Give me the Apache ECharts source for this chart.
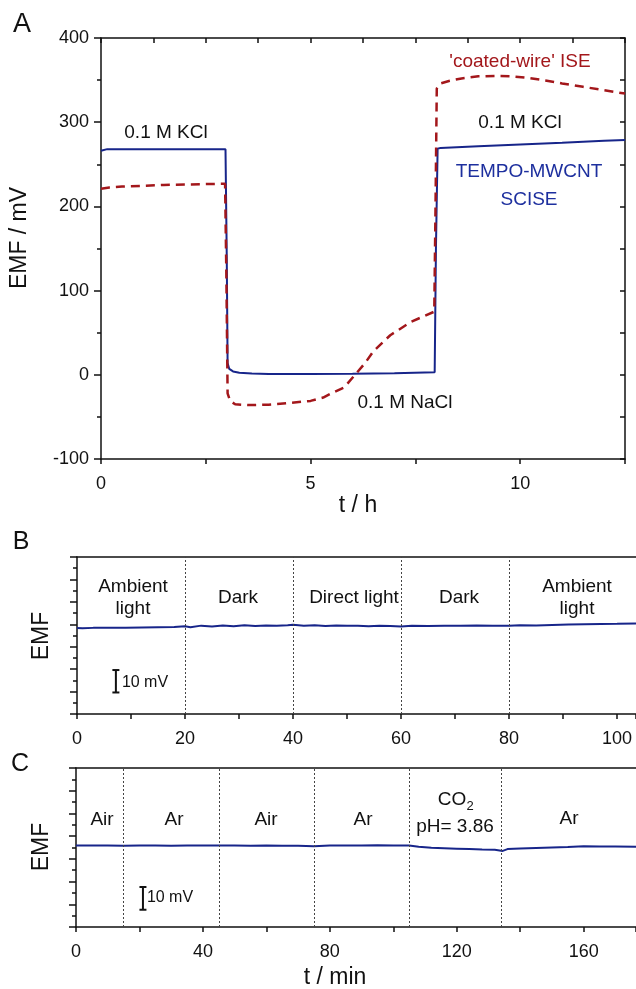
<!DOCTYPE html>
<html>
<head>
<meta charset="utf-8">
<script src="https://cdn.jsdelivr.net/npm/echarts@6/dist/echarts.min.js"></script>
<style>
  html, body { margin: 0; padding: 0; background: #fff; }
  #chart { width: 636px; height: 989px; }
</style>
</head>
<body>
<div id="chart"></div>
<script>
// Panel A: EMF / mV vs t / h (0.1 M KCl -> 0.1 M NaCl -> 0.1 M KCl)
var tTempo = [0, 0.15, 1, 2, 2.97, 3.0, 3.02, 3.06, 3.15, 3.3, 3.6, 4, 5, 6, 7, 7.96, 7.99, 8.03, 8.1, 9, 10, 11, 12, 12.5];
var emfTempo = [266, 268, 268, 268, 268, 140, 14, 7, 4, 2.5, 1.5, 1, 1, 1.3, 1.8, 3, 150, 268.5, 269.5, 271.5, 273.5, 275.5, 278, 279];

var tCoated = [0, 0.2, 0.5, 1, 1.5, 2, 2.5, 2.96, 2.99, 3.02, 3.08, 3.2, 3.5, 4, 4.5, 5, 5.3, 5.5, 5.8, 6.06, 6.3, 6.5, 6.9, 7.4, 7.95, 7.98, 8.01, 8.1, 8.3, 8.6, 9, 9.4, 9.8, 10.2, 10.6, 11, 11.5, 12, 12.5];
var emfCoated = [221, 222.5, 223.5, 224.5, 225.5, 226, 226.5, 227, 120, -22, -31, -35, -36, -35.5, -33.5, -31, -27, -22, -15, 0, 14, 28, 47, 63, 75, 200, 340, 346, 349, 352, 354.5, 355, 354.5, 352.5, 349.5, 346, 342, 338, 334];

// Panel B: light sensitivity, t / min; EMF in mV on a 70 mV window
var tLight = [0, 1, 3, 6, 9, 12, 15, 18, 20, 21, 23, 25, 27, 29, 31, 33, 35, 37, 39, 40, 42, 44, 46, 48, 50, 52, 54, 56, 58, 60, 62, 65, 68, 71, 74, 77, 80, 82, 85, 88, 91, 94, 97, 100, 103.5];
var emfLight = [38.3, 38.2, 38.4, 38.4, 38.5, 38.6, 38.7, 38.8, 39.1, 38.7, 39.4, 39.0, 39.5, 39.1, 39.6, 39.2, 39.5, 39.3, 39.6, 39.8, 39.4, 39.6, 39.2, 39.5, 39.3, 39.4, 39.1, 39.3, 39.2, 39.0, 39.3, 39.2, 39.4, 39.3, 39.5, 39.3, 39.3, 39.6, 39.5, 39.7, 39.9, 40.0, 40.1, 40.2, 40.4];
var lightSwitches = [20, 40, 60, 80];

// Panel C: gas / CO2 sensitivity, t / min
var tGas = [0, 5, 10, 15, 20, 25, 30, 35, 40, 45, 50, 55, 60, 65, 70, 75, 80, 85, 90, 95, 100, 105, 108, 112, 116, 120, 124, 128, 132, 134.5, 136, 140, 145, 150, 155, 160, 165, 170, 176.5];
var emfGas = [35.9, 35.9, 35.9, 35.8, 35.9, 35.9, 35.8, 35.9, 35.9, 35.9, 35.9, 35.8, 35.9, 35.8, 35.8, 35.6, 35.9, 35.9, 35.9, 36.0, 35.9, 35.9, 35.3, 34.9, 34.7, 34.5, 34.3, 34.1, 34.0, 33.5, 34.3, 34.6, 34.8, 35.0, 35.2, 35.5, 35.4, 35.4, 35.3];
var gasSwitches = [15, 45, 75, 105, 134];

// 10 mV scale bars (x position, from, to)
var barB = [7.2, 9.6, 19.6];
var barC = [21.1, 7.6, 17.6];

var NAVY = '#17258a';
var WINE = '#a3171b';
var FONT = "'Liberation Sans', Arial, sans-serif";

function pairs(xs, ys) {
  return xs.map(function (x, i) { return [x, ys[i]]; });
}

var axisLine = { show: true, onZero: false, lineStyle: { color: '#111', width: 1.5 } };
var tickStyle = { color: '#111', width: 1.5 };
var labelBase = { fontSize: 18, color: '#111', fontFamily: FONT };

function xMain(grid, max, step, labelEvery) {
  return {
    gridIndex: grid, type: 'value', min: 0, max: max, interval: step, position: 'bottom',
    axisLine: axisLine,
    axisTick: { show: true, inside: false, length: 5, lineStyle: tickStyle },
    axisLabel: Object.assign({ margin: 16, formatter: function (v) {
      return Math.abs(v / labelEvery - Math.round(v / labelEvery)) < 1e-6 ? String(v) : '';
    } }, labelBase),
    splitLine: { show: false }
  };
}
function xTop(grid, max, step, ticks) {
  return {
    gridIndex: grid, type: 'value', min: 0, max: max, interval: step, position: 'top',
    axisLine: axisLine,
    axisTick: { show: ticks, inside: true, length: 5, lineStyle: tickStyle },
    axisLabel: { show: false }, splitLine: { show: false }
  };
}
function yEmf(grid, min, max, step, labels) {
  return {
    gridIndex: grid, type: 'value', min: min, max: max, interval: step, position: 'left',
    axisLine: axisLine,
    axisTick: { show: true, inside: false, length: 7, lineStyle: tickStyle },
    minorTick: { show: true, splitNumber: 2, length: 4, lineStyle: tickStyle },
    axisLabel: Object.assign({ show: labels, margin: 12 }, labelBase),
    splitLine: { show: false }, minorSplitLine: { show: false }
  };
}

function txt(x, y, s, opts) {
  opts = opts || {};
  return {
    type: 'text', x: x, y: y, rotation: opts.rot || 0, z: 100,
    style: {
      text: s, fontSize: opts.size || 19, fontFamily: FONT, fill: opts.color || '#111',
      align: 'center', verticalAlign: 'middle'
    }
  };
}

function switchLines(values) {
  return {
    silent: true, symbol: ['none', 'none'], label: { show: false },
    lineStyle: { color: '#444', type: [2, 2], width: 1 },
    data: values.map(function (v) { return { xAxis: v }; })
  };
}

function scaleBar(xi, yi, bar) {
  return {
    type: 'line', xAxisIndex: xi, yAxisIndex: yi, z: 5,
    data: [[bar[0], bar[1]], [bar[0], bar[2]]],
    symbol: 'rect', symbolSize: [7, 2], showSymbol: true,
    itemStyle: { color: '#111' }, lineStyle: { color: '#111', width: 2 }
  };
}

var chart = echarts.init(document.getElementById('chart'), null, { renderer: 'canvas' });

chart.setOption({
  animation: false,
  backgroundColor: '#fff',
  grid: [
    { left: 101, top: 38, width: 524, height: 421, containLabel: false, outerBoundsMode: 'none' },
    { left: 77, top: 557, width: 559, height: 157, containLabel: false, outerBoundsMode: 'none' },
    { left: 76, top: 768, width: 560, height: 159, containLabel: false, outerBoundsMode: 'none' }
  ],
  xAxis: [
    xMain(0, 12.5, 2.5, 5),
    xTop(0, 12.5, 1.25, true),
    xMain(1, 103.5, 10, 20),
    xTop(1, 103.5, 10, false),
    xMain(2, 176.5, 20, 40),
    xTop(2, 176.5, 20, false)
  ],
  yAxis: [
    yEmf(0, -100, 400, 100, true),
    {
      gridIndex: 0, type: 'value', min: -100, max: 400, interval: 50, position: 'right',
      axisLine: axisLine,
      axisTick: { show: true, inside: true, length: 5, lineStyle: tickStyle },
      axisLabel: { show: false }, splitLine: { show: false }
    },
    yEmf(1, 0, 70, 10, false),
    yEmf(2, 0, 70, 10, false)
  ],
  series: [
    {
      type: 'line', xAxisIndex: 0, yAxisIndex: 0, showSymbol: false,
      data: pairs(tTempo, emfTempo),
      lineStyle: { color: NAVY, width: 2 }
    },
    {
      type: 'line', xAxisIndex: 0, yAxisIndex: 0, showSymbol: false, z: 3,
      data: pairs(tCoated, emfCoated),
      lineStyle: { color: WINE, width: 2.5, type: [9, 6] }
    },
    {
      type: 'line', xAxisIndex: 2, yAxisIndex: 2, showSymbol: false,
      data: pairs(tLight, emfLight),
      lineStyle: { color: NAVY, width: 2 },
      markLine: switchLines(lightSwitches)
    },
    scaleBar(2, 2, barB),
    {
      type: 'line', xAxisIndex: 4, yAxisIndex: 3, showSymbol: false,
      data: pairs(tGas, emfGas),
      lineStyle: { color: NAVY, width: 2 },
      markLine: switchLines(gasSwitches)
    },
    scaleBar(4, 3, barC)
  ],
  graphic: [
    // panel letters
    txt(22, 25, 'A', { size: 27 }),
    txt(21, 542, 'B', { size: 25 }),
    txt(20, 764, 'C', { size: 25 }),
    // panel A titles and annotations
    txt(20, 238, 'EMF / mV', { size: 23, rot: Math.PI / 2 }),
    txt(358, 506, 't / h', { size: 23 }),
    txt(166, 133, '0.1 M KCl'),
    txt(520, 62, "'coated-wire' ISE", { color: WINE }),
    txt(520, 123, '0.1 M KCl'),
    txt(529, 172, 'TEMPO-MWCNT', { color: '#1d2f9e' }),
    txt(529, 200, 'SCISE', { color: '#1d2f9e' }),
    txt(405, 403, '0.1 M NaCl'),
    // panel B
    txt(42, 636, 'EMF', { size: 23, rot: Math.PI / 2 }),
    txt(133, 587, 'Ambient'),
    txt(133, 609, 'light'),
    txt(238, 598, 'Dark'),
    txt(354, 598, 'Direct light'),
    txt(459, 598, 'Dark'),
    txt(577, 587, 'Ambient'),
    txt(577, 609, 'light'),
    txt(145, 683, '10 mV', { size: 16 }),
    // panel C
    txt(42, 847, 'EMF', { size: 23, rot: Math.PI / 2 }),
    txt(335, 978, 't / min', { size: 23 }),
    txt(102, 820, 'Air'),
    txt(174, 820, 'Ar'),
    txt(266, 820, 'Air'),
    txt(363, 820, 'Ar'),
    txt(452, 800, 'CO'),
    txt(470, 806, '2', { size: 13 }),
    txt(455, 827, 'pH= 3.86'),
    txt(569, 819, 'Ar'),
    txt(170, 898, '10 mV', { size: 16 })
  ]
});
</script>
</body>
</html>
